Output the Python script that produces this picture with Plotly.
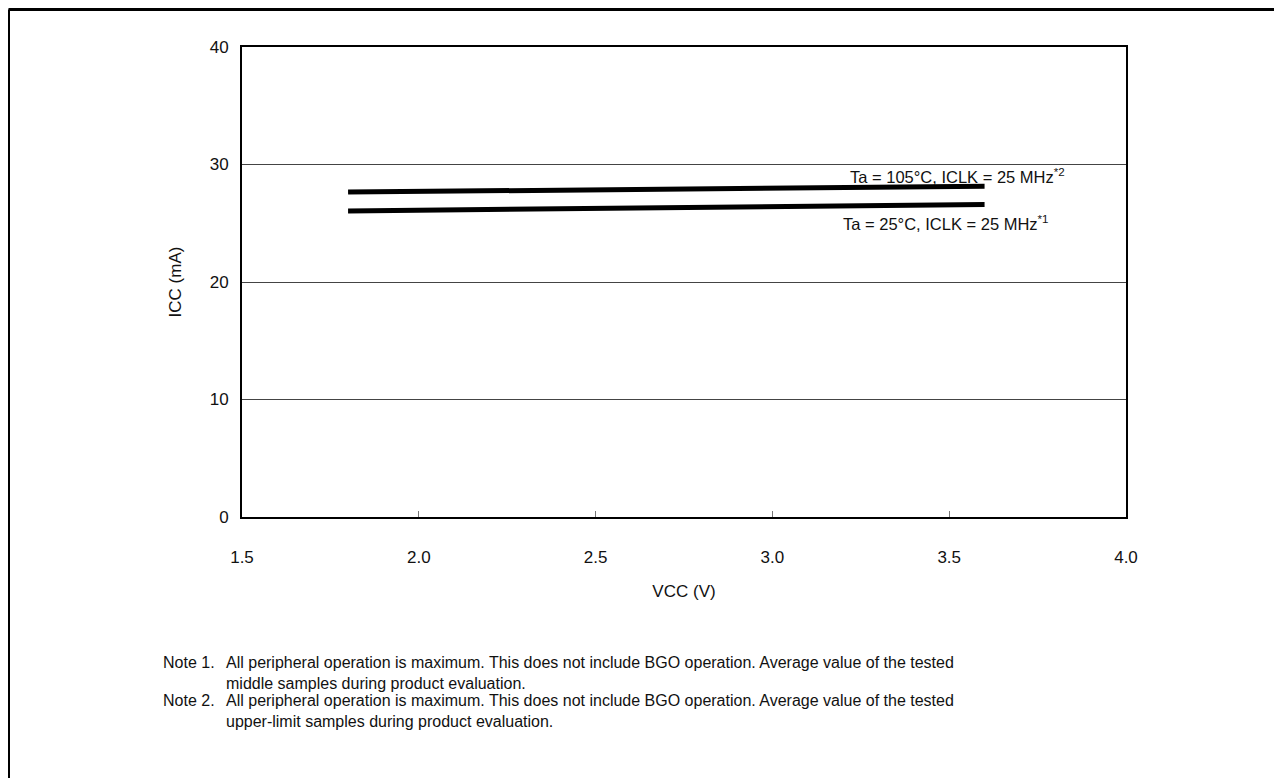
import plotly.graph_objects as go

# ---- data ----
vcc = [1.8, 2.7, 3.6]
icc_105 = [27.65, 27.95, 28.15]
icc_25 = [26.05, 26.35, 26.6]
x_ticks = [1.5, 2.0, 2.5, 3.0, 3.5, 4.0]
x_tick_labels = ["1.5", "2.0", "2.5", "3.0", "3.5", "4.0"]
y_ticks = [0, 10, 20, 30, 40]
label_105 = "Ta = 105°C, ICLK = 25 MHz<sup>*2</sup>"
label_25 = "Ta = 25°C, ICLK = 25 MHz<sup>*1</sup>"
note_heads = ["Note 1.", "Note 2."]
note_lines = [
    ["All peripheral operation is maximum. This does not include BGO operation. Average value of the tested",
     "middle samples during product evaluation."],
    ["All peripheral operation is maximum. This does not include BGO operation. Average value of the tested",
     "upper-limit samples during product evaluation."],
]

OFF = 8  # page body margin
W, H = 1282 - OFF, 778 - OFF
L, R, T, B = 242 - OFF, 1126 - OFF, 47 - OFF, 517 - OFF
FONT = "Liberation Sans, Arial, sans-serif"


def px(xref_pix):
    return (xref_pix - OFF - L) / (R - L)


def py(yref_pix):
    return (B - (yref_pix - OFF)) / (B - T)


fig = go.Figure()
for ys in (icc_105, icc_25):
    fig.add_trace(go.Scatter(x=vcc, y=ys, mode="lines",
                             line=dict(color="black", width=5),
                             showlegend=False, hoverinfo="skip"))

fig.update_layout(
    width=W, height=H,
    margin=dict(l=L, r=W - R, t=T, b=H - B, pad=0),
    paper_bgcolor="white", plot_bgcolor="white",
    font=dict(family=FONT, color="#111", size=17),
    showlegend=False,
)
fig.update_xaxes(range=[1.5, 4.0], tickvals=x_ticks, ticktext=x_tick_labels,
                 showgrid=False, zeroline=False,
                 showline=True, linecolor="black", linewidth=2, mirror=True,
                 ticks="inside", ticklen=6, tickcolor="#777", tickwidth=1,
                 ticklabelstandoff=24,
                 tickfont=dict(size=17),
                 title=dict(text="VCC (V)", font=dict(size=17), standoff=19))
fig.update_yaxes(range=[0, 40], tickvals=y_ticks,
                 showgrid=True, gridcolor="#444", gridwidth=1, zeroline=False,
                 showline=True, linecolor="black", linewidth=2, mirror=True,
                 ticks="", ticklabelstandoff=8,
                 tickfont=dict(size=17),
                 title=dict(text="ICC (mA)", font=dict(size=17), standoff=24))

fig.add_annotation(x=3.215, y=28.98, xref="x", yref="y", text=label_105,
                   showarrow=False, xanchor="left", yanchor="middle",
                   font=dict(size=16.5, color="#111"))
fig.add_annotation(x=3.195, y=25.06, xref="x", yref="y", text=label_25,
                   showarrow=False, xanchor="left", yanchor="middle",
                   font=dict(size=16.5, color="#111"))

note_top = [652, 690]
for i, head in enumerate(note_heads):
    fig.add_annotation(x=px(161), y=py(note_top[i]), xref="paper", yref="paper",
                       text=head, showarrow=False, xanchor="left", yanchor="top",
                       font=dict(size=16, color="#111"))
    fig.add_annotation(x=px(224), y=py(note_top[i]), xref="paper", yref="paper",
                       text="<br>".join(note_lines[i]), showarrow=False,
                       xanchor="left", yanchor="top", align="left",
                       font=dict(size=16, color="#111"))

# outer frame (open on right and bottom, cropped)
fig.add_shape(type="line", xref="paper", yref="paper",
              x0=px(8.5), y0=py(9.5), x1=px(1300), y1=py(9.5),
              line=dict(color="black", width=3))
fig.add_shape(type="line", xref="paper", yref="paper",
              x0=px(8.5), y0=py(9.5), x1=px(8.5), y1=py(800),
              line=dict(color="black", width=3))

fig.write_html("out.html")
